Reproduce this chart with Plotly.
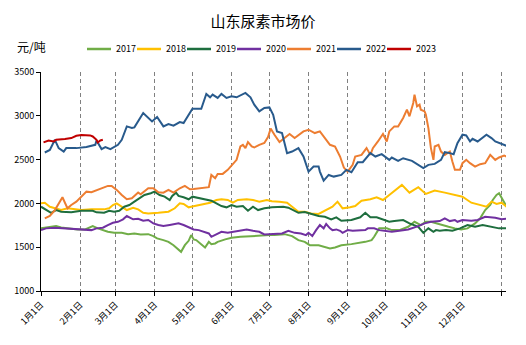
import plotly.graph_objects as go

# x = day of year (0 = 1月1日), y = 元/吨
s2017 = [(0,1715),(4,1722),(12,1741),(16,1726),(21,1715),(29,1703),(35,1703),(39,1733),(41,1741),(45,1715),
         (49,1695),(53,1676),(58,1664),(64,1664),(69,1649),(74,1657),(79,1646),(85,1649),(89,1627),(92,1600),
         (97,1581),(101,1561),(105,1523),(109,1474),(111,1447),(114,1523),(117,1573),(119,1638),(121,1589),(123,1581),
         (126,1543),(130,1497),(133,1561),(135,1535),(138,1543),(140,1561),(146,1589),(151,1607),(158,1619),(166,1627),
         (173,1638),(181,1638),(185,1638),(193,1649),(199,1627),(204,1581),(209,1561),(213,1523),(220,1523),(225,1504),
         (229,1486),(233,1497),(238,1523),(246,1535),(251,1543),(257,1561),(262,1581),(264,1619),(268,1715),(274,1715),
         (278,1695),(284,1695),(291,1733),(296,1790),(301,1753),(305,1790),(309,1790),(313,1772),(317,1753),(323,1733),
         (328,1715),(333,1703),(338,1715),(344,1772),(348,1829),(352,1924),(356,1982),(358,2039),(361,2096),(363,2116),
         (366,2039),(369,1962)]

s2018 = [(0,2001),(3,2008),(7,1962),(11,1944),(16,1924),(21,1944),(27,1932),(32,1924),(40,1932),(50,1932),
         (54,1944),(57,1982),(60,2001),(64,1962),(68,1924),(73,1951),(77,1932),(81,1893),(85,1886),(93,1893),
         (101,1905),(106,1944),(110,2001),(113,1993),(117,1955),(119,1962),(125,1982),(130,2001),(134,2008),(139,2039),
         (143,2047),(148,2039),(152,2008),(156,2039),(163,2047),(168,2039),(173,2020),(179,2039),(183,2025),(189,2020),
         (195,2008),(199,1962),(204,1905),(209,1905),(214,1886),(220,1879),(225,1916),(231,1962),(235,2020),(239,1944),
         (245,1955),(249,1970),(254,2031),(261,2047),(266,2070),(271,2039),(276,2096),(280,2140),(286,2211),(292,2123),
         (299,2185),(305,2108),(312,2146),(320,2123),(328,2096),(334,2077),(341,2008),(349,1982),(353,1962),(357,2020),
         (361,1993),(365,2008),(369,1962)]

s2019 = [(0,1962),(4,1932),(8,1893),(12,1924),(16,1905),(24,1898),(32,1916),(41,1916),(44,1898),(50,1893),
         (54,1916),(58,1905),(62,1916),(66,1962),(70,1982),(74,2020),(78,2058),(82,2096),(87,2116),(90,2134),
         (94,2096),(98,2077),(102,2039),(104,2085),(107,2123),(109,2085),(113,2070),(117,2047),(120,2077),(126,2058),
         (133,2039),(135,2031),(139,2001),(143,1970),(147,1955),(151,1982),(155,1962),(160,1970),(164,1916),(168,1962),
         (172,1924),(177,1944),(183,1955),(188,1955),(192,1962),(196,1951),(200,1924),(204,1893),(209,1902),(214,1879),
         (220,1856),(225,1848),(230,1818),(234,1841),(238,1802),(246,1810),(253,1841),(257,1893),(261,1841),(266,1841),
         (270,1818),(276,1790),(280,1798),(287,1810),(292,1772),(299,1733),(303,1664),(307,1715),(311,1676),(313,1695),
         (316,1687),(321,1695),(326,1687),(332,1715),(338,1753),(344,1733),(350,1753),(357,1733),(363,1715),(369,1715)]

s2020 = [(0,1695),(4,1715),(11,1722),(19,1715),(27,1707),(35,1695),(40,1695),(44,1715),(49,1722),(53,1753),
         (57,1779),(61,1790),(65,1818),(68,1856),(70,1841),(73,1818),(77,1825),(81,1802),(85,1810),(89,1772),
         (93,1753),(97,1741),(102,1753),(109,1772),(113,1753),(117,1726),(121,1703),(125,1695),(129,1676),(133,1657),
         (135,1619),(139,1649),(143,1676),(148,1664),(152,1676),(158,1687),(163,1703),(168,1687),(173,1676),(177,1645),
         (182,1649),(191,1657),(196,1687),(201,1664),(206,1657),(210,1638),(212,1664),(215,1627),(218,1695),(221,1753),
         (224,1715),(226,1764),(229,1715),(231,1695),(234,1703),(237,1687),(239,1664),(243,1695),(247,1687),(251,1687),
         (257,1695),(259,1715),(264,1715),(268,1695),(275,1687),(278,1676),(284,1687),(291,1703),(299,1741),(304,1772),
         (309,1790),(316,1798),(320,1829),(324,1798),(328,1810),(330,1790),(334,1810),(341,1802),(346,1810),(352,1848),
         (360,1836),(365,1818),(369,1825)]

s2021 = [(3,1829),(7,1856),(11,1924),(15,2031),(17,2070),(21,1944),(24,1982),(28,2020),(32,2077),(36,2134),
         (40,2127),(45,2154),(49,2173),(53,2200),(56,2200),(60,2154),(64,2096),(68,2047),(72,2058),(77,2123),
         (79,2104),(85,2173),(89,2173),(91,2146),(93,2127),(97,2123),(101,2154),(105,2123),(110,2173),(114,2200),
         (118,2162),(121,2165),(126,2173),(133,2185),(135,2325),(138,2287),(140,2337),(144,2337),(148,2383),(152,2451),
         (155,2497),(158,2650),(160,2669),(162,2631),(164,2700),(167,2650),(169,2638),(173,2669),(177,2690),(180,2760),
         (182,2855),(185,2784),(189,2700),(193,2746),(197,2792),(201,2746),(204,2776),(208,2822),(212,2841),(217,2803),
         (221,2822),(225,2746),(229,2669),(233,2650),(237,2535),(240,2409),(243,2363),(247,2440),(249,2535),(254,2554),
         (258,2631),(261,2554),(263,2631),(267,2707),(271,2792),(274,2707),(276,2822),(280,2879),(283,2879),(287,2975),
         (290,3070),(292,2994),(295,3147),(296,3242),(298,3108),(300,3127),(301,3070),(304,3050),(305,3012),(307,2860),
         (309,2631),(311,2497),(312,2650),(315,2669),(317,2592),(320,2554),(324,2592),(326,2478),(328,2383),(332,2383),
         (334,2459),(337,2497),(340,2459),(344,2420),(348,2448),(352,2459),(356,2554),(360,2497),(363,2524),(367,2547),
         (370,2524)]

s2022 = [(3,2581),(7,2610),(11,2726),(14,2631),(18,2592),(20,2631),(28,2631),(36,2643),(43,2669),(44,2718),
         (48,2620),(51,2643),(55,2620),(59,2650),(61,2669),(64,2726),(68,2879),(72,2860),(74,2868),(81,3032),
         (88,2936),(92,2986),(97,2879),(101,2906),(105,2887),(110,2929),(113,2917),(120,3081),(127,3081),(131,3250),
         (134,3211),(136,3242),(140,3204),(143,3250),(147,3204),(151,3222),(155,3211),(162,3261),(166,3211),(169,3127),
         (173,3050),(177,3089),(181,3096),(184,3012),(187,2822),(191,2803),(195,2574),(199,2592),(204,2631),(208,2535),
         (212,2363),(216,2420),(220,2420),(221,2363),(224,2260),(228,2325),(232,2306),(238,2325),(242,2383),(246,2356),
         (251,2471),(255,2471),(261,2574),(265,2535),(270,2562),(276,2497),(278,2524),(283,2486),(287,2516),(294,2486),
         (299,2440),(303,2402),(307,2440),(312,2451),(317,2497),(320,2585),(324,2574),(327,2562),(330,2688),(334,2784),
         (337,2776),(340,2707),(342,2738),(346,2707),(353,2784),(357,2746),(360,2707),(363,2688),(369,2657)]

s2023 = [(2,2696),(6,2718),(10,2707),(12,2726),(19,2734),(24,2746),(28,2772),(32,2780),(39,2776),(41,2764),
         (44,2726),(45,2696),(47,2718),(49,2726)]

series_names = ["2017", "2018", "2019", "2020", "2021", "2022", "2023"]
series_data = [s2017, s2018, s2019, s2020, s2021, s2022, s2023]
series_colors = ["#70AD47", "#FFC000", "#1E6E3E", "#7030A0", "#ED7D31", "#285A8C", "#C00000"]

tick_days = [0, 31, 59, 90, 120, 151, 181, 212, 243, 273, 304, 334, 365]
tick_labels = ["1月1日", "2月1日", "3月1日", "4月1日", "5月1日", "6月1日", "7月1日",
               "8月1日", "9月1日", "10月1日", "11月1日", "12月1日", ""]
y_ticks = [1000, 1500, 2000, 2500, 3000, 3500]

FONT = "Noto Sans CJK SC"
W, H = 526, 345
ML, MR, MT, MB = 41, 20, 72, 54
PW, PH = W - ML - MR, H - MT - MB


def px_x(px):
    return (px - ML) / PW


def px_y(py):
    return 1 - (py - MT) / PH


fig = go.Figure()
for name, data, color in zip(series_names, series_data, series_colors):
    fig.add_trace(go.Scatter(
        x=[p[0] for p in data], y=[p[1] for p in data],
        mode="lines", name=name, showlegend=False,
        line=dict(color=color, width=2),
    ))

# legend drawn as a row of line samples + labels (Excel-style compact legend)
LEG_X0, LEG_STEP, LEG_LINE, LEG_Y = 87, 50, 24, 49
shapes, annotations = [], []
for i, (name, color) in enumerate(zip(series_names, series_colors)):
    x0 = LEG_X0 + i * LEG_STEP
    shapes.append(dict(type="line", xref="paper", yref="paper",
                       x0=px_x(x0), x1=px_x(x0 + LEG_LINE), y0=px_y(LEG_Y), y1=px_y(LEG_Y),
                       line=dict(color=color, width=2.5)))
    annotations.append(dict(text=name, xref="paper", yref="paper",
                            x=px_x(x0 + LEG_LINE + 3), y=px_y(LEG_Y),
                            xanchor="left", yanchor="middle", showarrow=False,
                            font=dict(family=FONT, size=9, color="black")))

annotations.append(dict(text="元/吨", xref="paper", yref="paper",
                        x=px_x(31), y=px_y(46), xanchor="center", yanchor="middle",
                        showarrow=False, font=dict(family=FONT, size=12, color="black")))

fig.update_layout(
    width=W, height=H,
    margin=dict(l=ML, r=MR, t=MT, b=MB, autoexpand=False),
    paper_bgcolor="white", plot_bgcolor="white",
    font=dict(family=FONT, color="black", size=9),
    title=dict(text="山东尿素市场价", x=0.5, xref="container", xanchor="center",
               y=1 - 22 / H, yref="container", yanchor="middle",
               font=dict(family=FONT, size=15, color="black")),
    showlegend=False,
    shapes=shapes,
    annotations=annotations,
)

fig.update_xaxes(
    range=[0, 368.5], tickmode="array", tickvals=tick_days, ticktext=tick_labels,
    tickangle=-45, ticks="outside", ticklen=4, tickcolor="black",
    showline=True, linecolor="black", linewidth=1,
    showgrid=True, gridcolor="#808080", gridwidth=1, griddash="4px,3px",
    zeroline=False, tickfont=dict(family=FONT, size=9, color="black"),
)
fig.update_yaxes(
    range=[1000, 3500], tickmode="array", tickvals=y_ticks,
    ticks="outside", ticklen=4, tickcolor="black",
    showline=True, linecolor="black", linewidth=1,
    showgrid=False, zeroline=False,
    tickfont=dict(family=FONT, size=9, color="black"),
)

fig.write_html("out.html")
